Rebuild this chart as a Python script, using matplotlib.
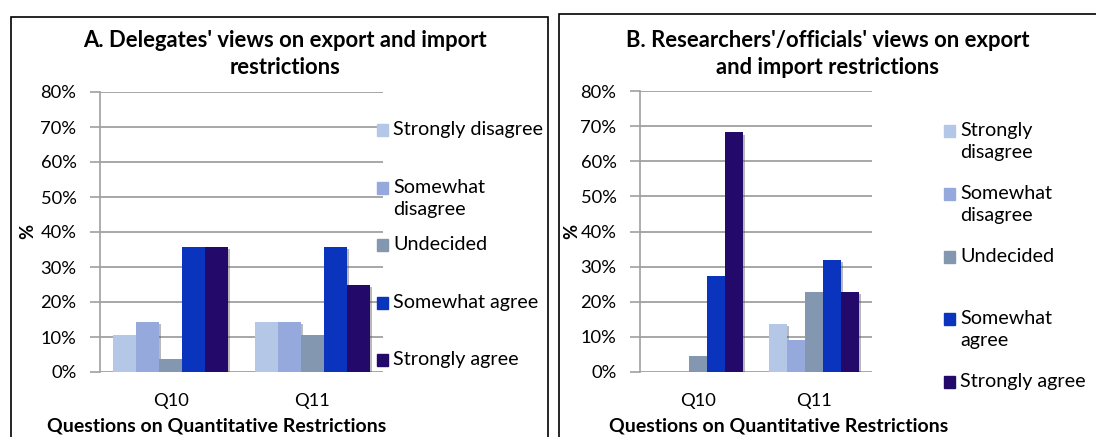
import numpy as np
import matplotlib
matplotlib.use("Agg")
import matplotlib.pyplot as plt
from matplotlib.patches import Rectangle
import matplotlib.patheffects as pe

plt.rcParams['font.family'] = ['Lato', 'DejaVu Sans']

W, H = 1096, 437

questions = ['Q10', 'Q11']
responses = ['Strongly disagree', 'Somewhat disagree', 'Undecided',
             'Somewhat agree', 'Strongly agree']
colors = ['#B4C7E7', '#95A9DD', '#8497B0', '#0A33BE', '#22096A']

# percentages per response, one value per question (Q10, Q11)
delegates = {
    'Strongly disagree': [10.7, 14.3],
    'Somewhat disagree': [14.3, 14.3],
    'Undecided': [3.6, 10.7],
    'Somewhat agree': [35.7, 35.7],
    'Strongly agree': [35.7, 25.0],
}
researchers = {
    'Strongly disagree': [0.0, 13.6],
    'Somewhat disagree': [0.0, 9.1],
    'Undecided': [4.5, 22.7],
    'Somewhat agree': [27.3, 31.8],
    'Strongly agree': [68.2, 22.7],
}

title_a = "A. Delegates' views on export and import\nrestrictions"
title_b = "B. Researchers'/officials' views on export\nand import restrictions"
legend_a = ['Strongly disagree', 'Somewhat\ndisagree', 'Undecided',
            'Somewhat agree', 'Strongly agree']
legend_b = ['Strongly\ndisagree', 'Somewhat\ndisagree', 'Undecided',
            'Somewhat\nagree', 'Strongly agree']
xlab = 'Questions on Quantitative Restrictions'

FS = 13.2      # tick labels
FS_LEG = 14.2  # legend entries
FS_XL = 14.0   # axis title
FS_T = 15.8    # chart title
fig = plt.figure(figsize=(W / 100, H / 100), dpi=100)


def px(x, y):
    return x / W, 1 - y / H


def panel(box, data, group, title, title_x, leg_labels, leg_sq_x, leg_y, xl_x, yl_x):
    x0, x1, ytop, ybot = box
    ax = fig.add_axes([x0 / W, 1 - ybot / H, (x1 - x0) / W, (ybot - ytop) / H])
    bw = group / len(responses)
    xs = np.arange(len(questions))
    shadow = [pe.SimplePatchShadow(offset=(1.5, -1.5), shadow_rgbFace='#505050', alpha=0.4),
              pe.Normal()]
    for i, r in enumerate(responses):
        off = (i - (len(responses) - 1) / 2) * bw
        bars = ax.bar(xs + off, data[r], width=bw, color=colors[i], zorder=3)
        for b in bars:
            if b.get_height() > 0:
                b.set_path_effects(shadow)
    ax.set_xlim(-0.5, 1.5)
    ax.set_ylim(0, 80)
    ax.set_yticks(range(0, 81, 10))
    ax.set_yticklabels(['%d%%' % v for v in range(0, 81, 10)], fontsize=FS)
    ax.set_xticks(xs)
    ax.set_xticklabels(questions, fontsize=FS)
    ax.tick_params(axis='x', length=0, pad=15)
    ax.tick_params(axis='y', length=7, width=1.2, color='#A0A0A0', pad=10)
    ax.grid(axis='y', color='#A0A0A0', lw=1.3, zorder=0)
    for s in ['top', 'right', 'bottom']:
        ax.spines[s].set_visible(False)
    ax.spines['left'].set_color('#A0A0A0')
    ax.spines['left'].set_linewidth(1.2)
    fig.text(*px(xl_x, 426), xlab, ha='center', va='center',
             fontsize=FS_XL, fontweight='bold')
    fig.text(*px(yl_x, 231), '%', ha='center', va='center', rotation=90,
             fontsize=FS, fontweight='bold')
    fig.text(*px(title_x, 54), title, ha='center', va='center',
             fontsize=FS_T, fontweight='bold', linespacing=1.3)
    for lab, c, y in zip(leg_labels, colors, leg_y):
        sx, sy = px(leg_sq_x, y + 6)
        fig.patches.append(Rectangle((sx, sy), 11 / W, 12 / H, color=c,
                                     transform=fig.transFigure))
        fig.text(*px(leg_sq_x + 16, y - 9), lab, ha='left', va='top',
                 fontsize=FS_LEG, linespacing=1.35)
    return ax


# outer frames of the two charts
fig.patches.append(Rectangle(px(11, 440), 537 / W, 423 / H, fill=False,
                             ec='black', lw=1.2, transform=fig.transFigure))
fig.patches.append(Rectangle(px(559, 440), 560 / W, 426 / H, fill=False,
                             ec='black', lw=1.2, transform=fig.transFigure))

ax1 = panel((100, 383, 92, 372), delegates, 0.81, title_a, 285,
            legend_a, 377, [130, 188, 245, 303, 360], 217, 28)
ax2 = panel((640, 872, 91, 372), researchers, 0.776, title_b, 828,
            legend_b, 944, [131, 194, 257, 319, 382], 779, 572)

fig.savefig('out.png', dpi=100)
